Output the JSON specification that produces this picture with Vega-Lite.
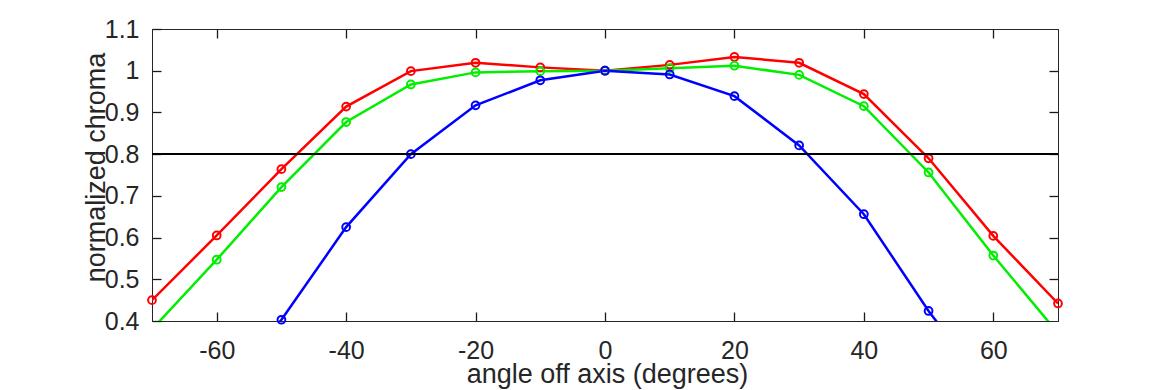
{
  "$schema": "https://vega.github.io/schema/vega-lite/v6.json",
  "width": 906,
  "height": 292,
  "autosize": {"type": "none"},
  "padding": {"left": 152, "top": 29, "right": 112, "bottom": 69},
  "background": "white",
  "config": {
    "view": {"stroke": "#262626", "strokeWidth": 1},
    "font": "Liberation Sans",
    "axis": {
      "grid": false,
      "zindex": 1,
      "domainColor": "#262626",
      "tickColor": "#1a1a1a",
      "labelColor": "#262626",
      "titleColor": "#262626",
      "ticks": true,
      "tickSize": -9,
      "tickWidth": 1.3,
      "labelFont": "Liberation Sans",
      "titleFont": "Liberation Sans",
      "labelFontSize": 25,
      "titleFontSize": 27,
      "titleFontWeight": "normal"
    }
  },
  "data": {
    "values": [
      {"angle": -70, "series": "red", "chroma": 0.45},
      {"angle": -60, "series": "red", "chroma": 0.605},
      {"angle": -50, "series": "red", "chroma": 0.764},
      {"angle": -40, "series": "red", "chroma": 0.914},
      {"angle": -30, "series": "red", "chroma": 0.999},
      {"angle": -20, "series": "red", "chroma": 1.019},
      {"angle": -10, "series": "red", "chroma": 1.008},
      {"angle": 0, "series": "red", "chroma": 1.0},
      {"angle": 10, "series": "red", "chroma": 1.014},
      {"angle": 20, "series": "red", "chroma": 1.033},
      {"angle": 30, "series": "red", "chroma": 1.019},
      {"angle": 40, "series": "red", "chroma": 0.944},
      {"angle": 50, "series": "red", "chroma": 0.79},
      {"angle": 60, "series": "red", "chroma": 0.604},
      {"angle": 70, "series": "red", "chroma": 0.442},
      {"angle": -70, "series": "green", "chroma": 0.38},
      {"angle": -60, "series": "green", "chroma": 0.547},
      {"angle": -50, "series": "green", "chroma": 0.721},
      {"angle": -40, "series": "green", "chroma": 0.877},
      {"angle": -30, "series": "green", "chroma": 0.967},
      {"angle": -20, "series": "green", "chroma": 0.996},
      {"angle": -10, "series": "green", "chroma": 0.999},
      {"angle": 0, "series": "green", "chroma": 1.0},
      {"angle": 10, "series": "green", "chroma": 1.006},
      {"angle": 20, "series": "green", "chroma": 1.012},
      {"angle": 30, "series": "green", "chroma": 0.99},
      {"angle": 40, "series": "green", "chroma": 0.915},
      {"angle": 50, "series": "green", "chroma": 0.756},
      {"angle": 60, "series": "green", "chroma": 0.557},
      {"angle": 70, "series": "green", "chroma": 0.371},
      {"angle": -60, "series": "blue", "chroma": 0.22},
      {"angle": -50, "series": "blue", "chroma": 0.403},
      {"angle": -40, "series": "blue", "chroma": 0.625},
      {"angle": -30, "series": "blue", "chroma": 0.8},
      {"angle": -20, "series": "blue", "chroma": 0.917},
      {"angle": -10, "series": "blue", "chroma": 0.977},
      {"angle": 0, "series": "blue", "chroma": 1.0},
      {"angle": 10, "series": "blue", "chroma": 0.991},
      {"angle": 20, "series": "blue", "chroma": 0.939},
      {"angle": 30, "series": "blue", "chroma": 0.821},
      {"angle": 40, "series": "blue", "chroma": 0.656},
      {"angle": 50, "series": "blue", "chroma": 0.424},
      {"angle": 60, "series": "blue", "chroma": 0.22}
    ]
  },
  "layer": [
    {
      "mark": {"type": "line", "strokeWidth": 2.5, "clip": true},
      "encoding": {
        "x": {
          "field": "angle", "type": "quantitative",
          "scale": {"domain": [-70, 70], "nice": false, "zero": false},
          "axis": {
            "orient": "bottom",
            "ticks": false,
            "grid": true,
            "gridColor": "#1a1a1a",
            "gridOpacity": 1,
            "gridWidth": 1.3,
            "gridDash": [9, 274],
            "values": [-60, -40, -20, 0, 20, 40, 60],
            "labelExpr": "'' + datum.value",
            "labelPadding": 17,
            "title": "angle off axis (degrees)",
            "titleBaseline": "alphabetic",
            "titleY": 61,
            "titleX": 455
          }
        },
        "y": {
          "field": "chroma", "type": "quantitative",
          "scale": {"domain": [0.4, 1.1], "nice": false, "zero": false},
          "axis": {
            "orient": "left",
            "values": [0.4, 0.5, 0.6, 0.7, 0.8, 0.9, 1, 1.1],
            "labelExpr": "'' + datum.value",
            "labelPadding": 22,
            "title": "normalized chroma",
            "titleAngle": -90,
            "titleBaseline": "alphabetic",
            "titleAlign": "center",
            "titleX": -48,
            "titleY": 138
          }
        },
        "color": {
          "field": "series", "type": "nominal",
          "scale": {"domain": ["red", "green", "blue"], "range": ["#ff0000", "#00ee00", "#0000ff"]},
          "legend": null
        }
      }
    },
    {
      "transform": [{"filter": "datum.chroma >= 0.4"}],
      "mark": {"type": "point", "shape": "circle", "filled": false, "size": 60, "strokeWidth": 2, "opacity": 1},
      "encoding": {
        "x": {
          "field": "angle", "type": "quantitative",
          "axis": {"orient": "top", "ticks": false, "values": [-60, -40, -20, 0, 20, 40, 60], "labels": false, "title": null}
        },
        "y": {
          "field": "chroma", "type": "quantitative",
          "axis": {"orient": "right", "values": [0.5, 0.6, 0.7, 0.8, 0.9, 1], "labels": false, "title": null}
        },
        "color": {"field": "series", "type": "nominal", "legend": null}
      }
    },
    {
      "mark": {"type": "rule", "color": "black", "strokeWidth": 1.5},
      "encoding": {
        "y": {"datum": 0.8, "type": "quantitative", "axis": null}
      }
    }
  ],
  "resolve": {"axis": {"x": "independent", "y": "independent"}}
}
